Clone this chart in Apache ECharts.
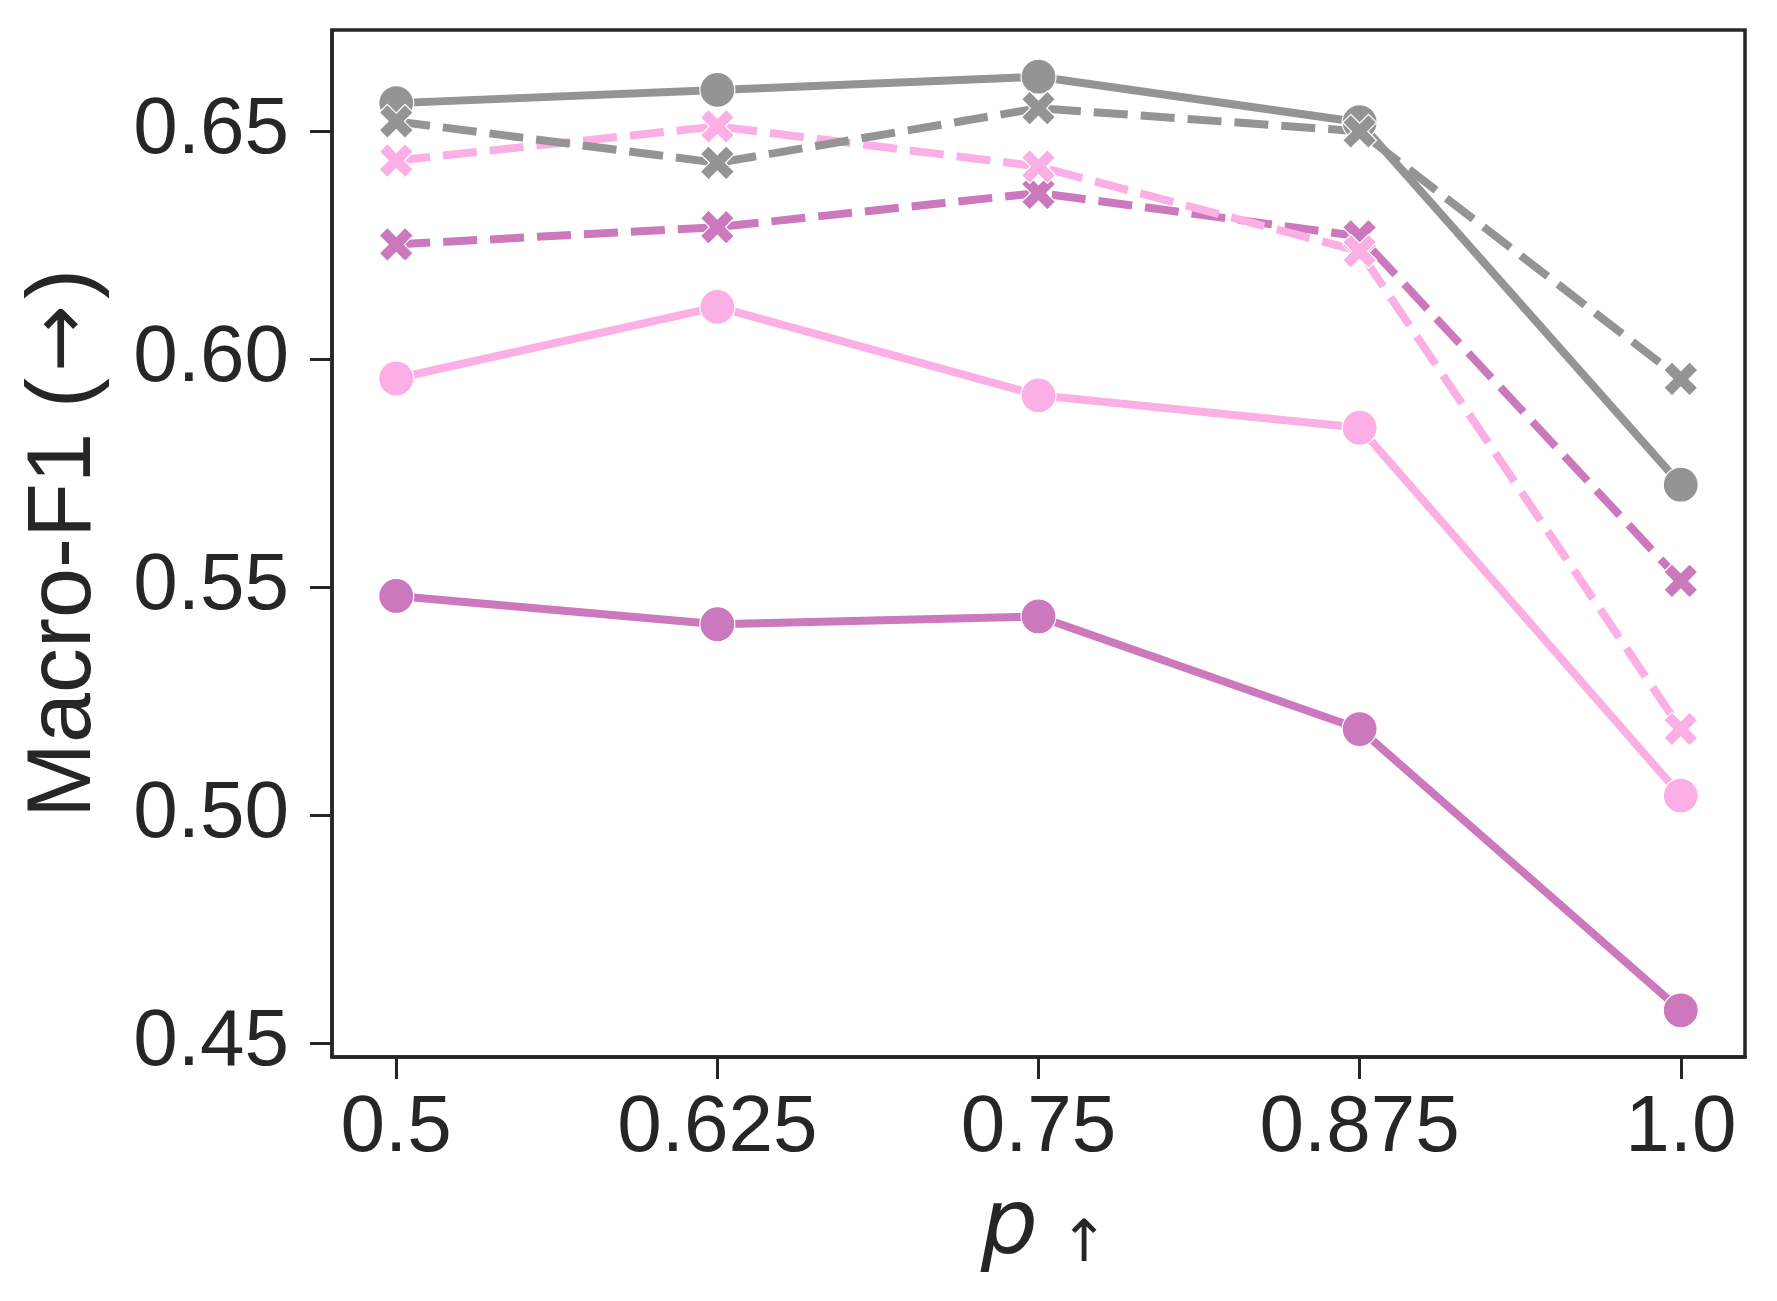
<!DOCTYPE html>
<html>
<head>
<meta charset="utf-8">
<script src="https://cdn.jsdelivr.net/npm/echarts@6/dist/echarts.min.js"></script>
<style>
html, body { margin: 0; padding: 0; background: #fff; }
#chart { width: 1777px; height: 1301px; }
</style>
</head>
<body>
<div id="chart"></div>
<script>
// ---- data ----
const pValues = [0.5, 0.625, 0.75, 0.875, 1.0];
const xTickLabels = ['0.5', '0.625', '0.75', '0.875', '1.0'];
const yTicks = [0.45, 0.50, 0.55, 0.60, 0.65];

const magentaSolid = [0.5481, 0.5419, 0.5436, 0.5189, 0.4572];
const pinkSolid    = [0.5958, 0.6115, 0.5921, 0.5850, 0.5043];
const graySolid    = [0.6562, 0.6591, 0.6620, 0.6520, 0.5725];
const magentaDash  = [0.6252, 0.6290, 0.6365, 0.6270, 0.5514];
const pinkDash     = [0.6436, 0.6511, 0.6423, 0.6237, 0.5189];
const grayDash     = [0.6522, 0.6431, 0.6551, 0.6500, 0.5957];

const GRAY = '#949494', PINK = '#fbafe4', MAGENTA = '#cc78bc';
const INK = '#262626';
const XPATH = 'path://M0,2.4 L2.4,0 L5,2.6 L7.6,0 L10,2.4 L7.4,5 L10,7.6 L7.6,10 L5,7.4 L2.4,10 L0,7.6 L2.6,5 Z';

const allVals = [].concat(magentaSolid, pinkSolid, graySolid, magentaDash, pinkDash, grayDash);
const yMinD = Math.min.apply(null, allVals), yMaxD = Math.max.apply(null, allVals);
const yPad = 0.05 * (yMaxD - yMinD);

function mk(name, vals, color, dashed) {
  return {
    name: name,
    type: 'line',
    data: pValues.map((p, i) => [p, vals[i]]),
    symbol: dashed ? XPATH : 'circle',
    symbolSize: dashed ? 34 : 35,
    symbolKeepAspect: true,
    showAllSymbol: true,
    lineStyle: { color: color, width: 8, type: dashed ? [34, 13] : 'solid', cap: 'butt' },
    itemStyle: { color: color, borderColor: '#ffffff', borderWidth: 1.2 },
    emphasis: { disabled: true },
    animation: false,
    silent: true
  };
}

const chart = echarts.init(document.getElementById('chart'), null, { renderer: 'canvas' });
chart.setOption({
  backgroundColor: '#ffffff',
  animation: false,
  grid: {
    left: 332, right: 32, top: 30, bottom: 244,
    containLabel: false, outerBoundsMode: 'none',
    show: true, borderColor: INK, borderWidth: 3.5, backgroundColor: 'transparent'
  },
  xAxis: {
    type: 'value',
    min: 0.475, max: 1.025,
    name: '{p|p}{s|↑}',
    nameLocation: 'middle',
    nameGap: 128,
    nameTextStyle: {
      rich: {
        p: { fontFamily: 'DejaVu Sans', fontStyle: 'italic', fontSize: 90, color: INK, padding: [0, 0, 0, 12] },
        s: { fontFamily: 'DejaVu Sans', fontSize: 58, color: INK, verticalAlign: 'bottom', padding: [0, 0, 0, 22] }
      }
    },
    axisLine: { show: true, lineStyle: { color: INK, width: 3.5 } },
    axisTick: { show: true, inside: false, length: 22, lineStyle: { color: INK, width: 3 }, customValues: pValues },
    axisLabel: {
      show: true, margin: 32, fontFamily: 'Liberation Sans, Arial, sans-serif', fontSize: 80, color: INK,
      customValues: pValues,
      formatter: function (v) { const i = pValues.findIndex(p => Math.abs(p - v) < 1e-9); return i >= 0 ? xTickLabels[i] : ''; }
    },
    splitLine: { show: false }
  },
  yAxis: {
    type: 'value',
    min: yMinD - yPad, max: yMaxD + yPad,
    name: '{a|Macro-F1 (}{b|→}{a|)}',
    nameLocation: 'middle',
    nameGap: 222,
    nameRotate: 90,
    nameTextStyle: {
      rich: {
        a: { fontFamily: 'Liberation Sans, Arial, sans-serif', fontSize: 90, color: INK },
        b: { fontFamily: 'DejaVu Sans', fontSize: 80, color: INK, padding: [0, 6, 0, 6] }
      }
    },
    axisLine: { show: true, lineStyle: { color: INK, width: 3.5 } },
    axisTick: { show: true, inside: false, length: 22, lineStyle: { color: INK, width: 3 }, customValues: yTicks },
    axisLabel: {
      show: true, margin: 43, fontFamily: 'Liberation Sans, Arial, sans-serif', fontSize: 80, color: INK,
      customValues: yTicks,
      formatter: function (v) { return v.toFixed(2); }
    },
    splitLine: { show: false }
  },
  series: [
    mk('magenta solid', magentaSolid, MAGENTA, false),
    mk('pink solid', pinkSolid, PINK, false),
    mk('gray solid', graySolid, GRAY, false),
    mk('magenta dashed', magentaDash, MAGENTA, true),
    mk('pink dashed', pinkDash, PINK, true),
    mk('gray dashed', grayDash, GRAY, true)
  ]
});
</script>
</body>
</html>
